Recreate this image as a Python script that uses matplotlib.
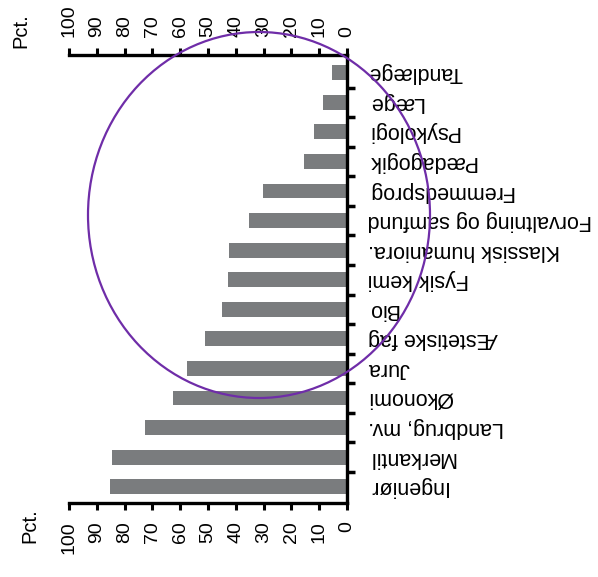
import matplotlib
matplotlib.use("Agg")
import matplotlib.pyplot as plt
from matplotlib.patches import Ellipse

categories = ["Tandlæge", "Læge", "Psykologi", "Pædagogik", "Fremmedsprog",
              "Forvaltning og samfund", "Klassisk humaniora.", "Fysik kemi", "Bio",
              "Æstetiske fag", "Jura", "Økonomi", "Landbrug, mv.", "Merkantil", "Ingeniør"]
values = [5.4, 8.6, 11.8, 15.4, 30.2, 35.1, 42.3, 42.8, 45.0, 50.9, 57.7, 62.6, 72.5, 84.6, 85.3]
xticks = list(range(0, 101, 10))
unit_label = "Pct."

plt.rcParams['font.family'] = ['Liberation Sans', 'DejaVu Sans']

W, H = 598, 577
fig = plt.figure(figsize=(W / 100, H / 100), dpi=100)
ax = fig.add_axes([69 / W, 1 - 503 / H, (347 - 69) / W, (503 - 55) / H])

ypos = list(range(len(categories)))
ax.barh(ypos, values, height=0.5, color='#7a7c7e')

ax.set_xlim(100, 0)
ax.set_ylim(14.55, -0.6)

ax.set_xticks(xticks)
ax.set_xticklabels([str(t) for t in xticks], rotation=90, fontsize=14)
ax.tick_params(axis='x', top=True, labeltop=True, bottom=True, labelbottom=True,
               direction='out', length=5, width=2.2, pad=8)

ax.yaxis.tick_right()
ax.set_yticks([i + 0.5 for i in range(len(categories) - 1)])
ax.set_yticklabels([])
ax.set_yticks(ypos, minor=True)
ax.set_yticklabels(categories, minor=True, rotation=180, fontsize=15.5)
ax.tick_params(axis='y', which='major', direction='out', length=6, width=2.5, right=True, left=False)
ax.tick_params(axis='y', which='minor', length=0, pad=15, right=True, left=False)
for lab in ax.get_yticklabels(minor=True):
    lab.set_ha('left')
    lab.set_va('center')

for s in ['top', 'bottom', 'right']:
    ax.spines[s].set_linewidth(2.4)
ax.spines['left'].set_visible(False)

fig.text(21 / W, 1 - 31 / H, unit_label, rotation=90, fontsize=14.5, ha='center', va='center')
fig.text(30 / W, 1 - 526 / H, unit_label, rotation=90, fontsize=14.5, ha='center', va='center')

ell = Ellipse((259 / W, 1 - 215 / H), 342 / W, 366 / H, transform=fig.transFigure,
              fill=False, edgecolor='#6f2da8', linewidth=1.6, zorder=10)
fig.patches.append(ell)

fig.savefig("out.png", dpi=100)
